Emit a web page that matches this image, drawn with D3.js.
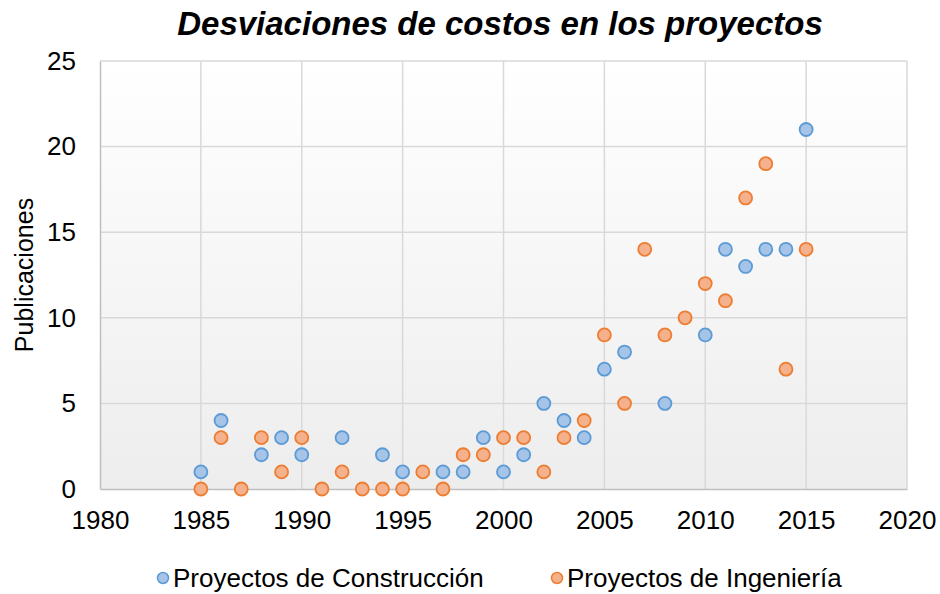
<!DOCTYPE html>
<head>
    <script src="https://cdn.jsdelivr.net/npm/d3@7"></script>
    <style>
body {
  margin: 0;
  background: #fff;
  font-family: "Liberation Sans", Arial, sans-serif;
}
</style>
</head>
<body>
    <svg></svg>
</body>

<script>
    // Proyectos de Construcción
    var constYears  = [1985, 1986, 1988, 1989, 1990, 1992, 1994, 1995, 1997, 1998, 1999, 2000, 2001, 2002, 2003, 2004, 2005, 2006, 2008, 2010, 2011, 2012, 2013, 2014, 2015];
    var constValues = [1, 4, 2, 3, 2, 3, 2, 1, 1, 1, 3, 1, 2, 5, 4, 3, 7, 8, 5, 9, 14, 13, 14, 14, 21];

    // Proyectos de Ingeniería
    var ingYears  = [1985, 1986, 1987, 1988, 1989, 1990, 1991, 1992, 1993, 1994, 1995, 1996, 1997, 1998, 1999, 2000, 2001, 2002, 2003, 2004, 2005, 2006, 2007, 2008, 2009, 2010, 2011, 2012, 2013, 2014, 2015];
    var ingValues = [0, 3, 0, 3, 1, 3, 0, 1, 0, 0, 0, 1, 0, 2, 2, 3, 3, 1, 3, 4, 9, 5, 14, 9, 10, 12, 11, 17, 19, 7, 14];

    var xTicks = [1980, 1985, 1990, 1995, 2000, 2005, 2010, 2015, 2020];
    var yTicks = [0, 5, 10, 15, 20, 25];
    var seriesNames = ["Proyectos de Construcción", "Proyectos de Ingeniería"];

    var width = 940, height = 594;
    var plotLeft = 100, plotRight = 907, plotTop = 61, plotBottom = 489;

    var svg = d3.select('svg').attr('width', width).attr('height', height);

    var x = d3.scaleLinear().domain([1980, 2020]).range([plotLeft, plotRight]);
    var y = d3.scaleLinear().domain([0, 25]).range([plotBottom, plotTop]);

    // plot area gradient
    var grad = svg.append('defs').append('linearGradient')
        .attr('id', 'bg').attr('x1', 0).attr('y1', 0).attr('x2', 0).attr('y2', 1);
    grad.append('stop').attr('offset', '0%').attr('stop-color', '#ffffff');
    grad.append('stop').attr('offset', '100%').attr('stop-color', '#ededed');

    svg.append('rect')
        .attr('x', plotLeft).attr('y', plotTop)
        .attr('width', plotRight - plotLeft).attr('height', plotBottom - plotTop)
        .attr('fill', 'url(#bg)');

    // gridlines
    svg.append('g').selectAll('line').data(yTicks.slice(1)).enter().append('line')
        .attr('x1', plotLeft).attr('x2', plotRight)
        .attr('y1', function(d) { return y(d); }).attr('y2', function(d) { return y(d); })
        .style('stroke', '#d9d9d9').style('stroke-width', 1.5);
    svg.append('g').selectAll('line').data(xTicks.slice(1)).enter().append('line')
        .attr('y1', plotTop).attr('y2', plotBottom)
        .attr('x1', function(d) { return x(d); }).attr('x2', function(d) { return x(d); })
        .style('stroke', '#d9d9d9').style('stroke-width', 1.5);

    // axes
    var xAxis = svg.append('g').attr('transform', 'translate(0,' + plotBottom + ')')
        .call(d3.axisBottom(x).tickValues(xTicks).tickFormat(d3.format('d')).tickSize(0).tickPadding(22));
    var yAxis = svg.append('g').attr('transform', 'translate(' + plotLeft + ',0)')
        .call(d3.axisLeft(y).tickValues(yTicks).tickSize(0).tickPadding(24));
    [xAxis, yAxis].forEach(function(a) {
        a.select('.domain').style('stroke', '#bfbfbf').style('stroke-width', 1.5);
        a.selectAll('text').style('font-size', '26px').style('fill', '#000')
            .style('font-family', '"Liberation Sans", Arial, sans-serif');
    });

    // points
    function drawSeries(years, values, fill, stroke) {
        svg.append('g').selectAll('circle')
            .data(years.map(function(yr, i) { return [yr, values[i]]; }))
            .enter().append('circle')
            .attr('cx', function(d) { return x(d[0]); })
            .attr('cy', function(d) { return y(d[1]); })
            .attr('r', 6.5)
            .style('fill', fill)
            .style('stroke', stroke)
            .style('stroke-width', 1.8);
    }
    drawSeries(constYears, constValues, '#a6c3e8', '#5b9bd5');
    drawSeries(ingYears, ingValues, '#f5b08c', '#ed7d31');

    // title
    svg.append('text')
        .attr('x', 500).attr('y', 35)
        .attr('text-anchor', 'middle')
        .style('font-size', '33px').style('font-weight', 'bold').style('font-style', 'italic')
        .text('Desviaciones de costos en los proyectos');

    // y label
    svg.append('text')
        .attr('transform', 'translate(33,275)rotate(-90)')
        .attr('text-anchor', 'middle')
        .style('font-size', '25px')
        .text('Publicaciones');

    // legend
    var legend = [
        { name: seriesNames[0], x: 163, fill: '#a6c3e8', stroke: '#5b9bd5' },
        { name: seriesNames[1], x: 557, fill: '#f5b08c', stroke: '#ed7d31' }
    ];
    var lg = svg.append('g').selectAll('g').data(legend).enter().append('g');
    lg.append('circle')
        .attr('cx', function(d) { return d.x; }).attr('cy', 578).attr('r', 5.5)
        .style('fill', function(d) { return d.fill; })
        .style('stroke', function(d) { return d.stroke; })
        .style('stroke-width', 1.5);
    lg.append('text')
        .attr('x', function(d) { return d.x + 10; }).attr('y', 587)
        .style('font-size', '26px')
        .text(function(d) { return d.name; });
</script>
